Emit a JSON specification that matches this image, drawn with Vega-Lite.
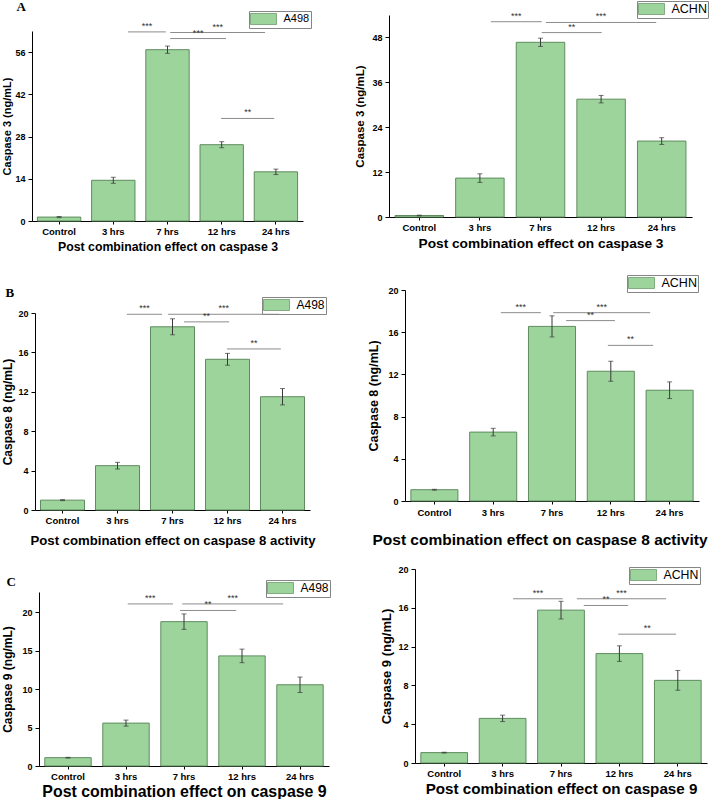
{
  "$schema": "https://vega.github.io/schema/vega-lite/v6.json",
  "background": "white",
  "padding": 0,
  "datasets": {
    "a498_c3": [
      {"group": "Control", "mean": 1.3, "sd": 0.2, "cell": "A498"},
      {"group": "3 hrs", "mean": 13.5, "sd": 1.0, "cell": "A498"},
      {"group": "7 hrs", "mean": 56.8, "sd": 1.2, "cell": "A498"},
      {"group": "12 hrs", "mean": 25.3, "sd": 1.0, "cell": "A498"},
      {"group": "24 hrs", "mean": 16.3, "sd": 0.9, "cell": "A498"}
    ],
    "achn_c3": [
      {"group": "Control", "mean": 0.4, "sd": 0.1, "cell": "ACHN"},
      {"group": "3 hrs", "mean": 10.4, "sd": 1.15, "cell": "ACHN"},
      {"group": "7 hrs", "mean": 46.7, "sd": 1.1, "cell": "ACHN"},
      {"group": "12 hrs", "mean": 31.5, "sd": 1.0, "cell": "ACHN"},
      {"group": "24 hrs", "mean": 20.3, "sd": 0.9, "cell": "ACHN"}
    ],
    "a498_c8": [
      {"group": "Control", "mean": 1.0, "sd": 0.05, "cell": "A498"},
      {"group": "3 hrs", "mean": 4.5, "sd": 0.34, "cell": "A498"},
      {"group": "7 hrs", "mean": 18.6, "sd": 0.81, "cell": "A498"},
      {"group": "12 hrs", "mean": 15.3, "sd": 0.6, "cell": "A498"},
      {"group": "24 hrs", "mean": 11.5, "sd": 0.83, "cell": "A498"}
    ],
    "achn_c8": [
      {"group": "Control", "mean": 1.07, "sd": 0.04, "cell": "ACHN"},
      {"group": "3 hrs", "mean": 6.53, "sd": 0.36, "cell": "ACHN"},
      {"group": "7 hrs", "mean": 16.55, "sd": 1.0, "cell": "ACHN"},
      {"group": "12 hrs", "mean": 12.3, "sd": 0.95, "cell": "ACHN"},
      {"group": "24 hrs", "mean": 10.5, "sd": 0.79, "cell": "ACHN"}
    ],
    "a498_c9": [
      {"group": "Control", "mean": 1.08, "sd": 0.05, "cell": "A498"},
      {"group": "3 hrs", "mean": 5.57, "sd": 0.39, "cell": "A498"},
      {"group": "7 hrs", "mean": 18.75, "sd": 1.0, "cell": "A498"},
      {"group": "12 hrs", "mean": 14.3, "sd": 0.88, "cell": "A498"},
      {"group": "24 hrs", "mean": 10.55, "sd": 1.0, "cell": "A498"}
    ],
    "achn_c9": [
      {"group": "Control", "mean": 1.07, "sd": 0.04, "cell": "ACHN"},
      {"group": "3 hrs", "mean": 4.6, "sd": 0.33, "cell": "ACHN"},
      {"group": "7 hrs", "mean": 15.76, "sd": 0.91, "cell": "ACHN"},
      {"group": "12 hrs", "mean": 11.28, "sd": 0.8, "cell": "ACHN"},
      {"group": "24 hrs", "mean": 8.52, "sd": 1.02, "cell": "ACHN"}
    ],
    "a498_c3_sig": [
      {"from": 1.77, "to": 2.47, "level": 62.7, "label": "***"},
      {"from": 2.55, "to": 4.3, "level": 62.5, "label": "***"},
      {"from": 2.55, "to": 3.58, "level": 60.5, "label": "***"},
      {"from": 3.49, "to": 4.47, "level": 34.0, "label": "**"}
    ],
    "achn_c3_sig": [
      {"from": 1.68, "to": 2.52, "level": 52.2, "label": "***"},
      {"from": 2.59, "to": 4.41, "level": 52.0, "label": "***"},
      {"from": 2.52, "to": 3.51, "level": 49.3, "label": "**"}
    ],
    "a498_c8_sig": [
      {"from": 1.67, "to": 2.31, "level": 19.87, "label": "***"},
      {"from": 2.42, "to": 4.44, "level": 19.87, "label": "***"},
      {"from": 2.71, "to": 3.53, "level": 19.1, "label": "**"},
      {"from": 3.49, "to": 4.47, "level": 16.35, "label": "**"}
    ],
    "achn_c8_sig": [
      {"from": 1.63, "to": 2.31, "level": 17.85, "label": "***"},
      {"from": 2.52, "to": 4.17, "level": 17.85, "label": "***"},
      {"from": 2.74, "to": 3.57, "level": 17.1, "label": "**"},
      {"from": 3.45, "to": 4.22, "level": 14.75, "label": "**"}
    ],
    "a498_c9_sig": [
      {"from": 1.53, "to": 2.31, "level": 21.05, "label": "***"},
      {"from": 2.47, "to": 4.21, "level": 21.05, "label": "***"},
      {"from": 2.43, "to": 3.4, "level": 20.2, "label": "**"}
    ],
    "achn_c9_sig": [
      {"from": 1.68, "to": 2.53, "level": 16.93, "label": "***"},
      {"from": 2.77, "to": 4.3, "level": 16.93, "label": "***"},
      {"from": 2.89, "to": 3.65, "level": 16.24, "label": "**"},
      {"from": 3.48, "to": 4.47, "level": 13.28, "label": "**"}
    ]
  },
  "concat": [
    {
      "width": 354, "height": 266,
      "title": {"text": "A", "offset": -14, "dx": 16.5},
      "layer": [
        {
          "data": {"name": "a498_c3"},
          "layer": [
            {
              "mark": {"type": "bar", "stroke": "#5e8c5e", "strokeWidth": 1},
              "encoding": {
                "x": {"field": "group", "type": "nominal", "sort": ["Control", "3 hrs", "7 hrs", "12 hrs", "24 hrs"], "scale": {"range": [32, 303], "paddingInner": 0.2, "paddingOuter": 0.1}, "axis": {"title": "Post combination effect on caspase 3", "offset": -45, "titleFontSize": 12.3, "titlePadding": 5}},
                "y": {"field": "mean", "type": "quantitative", "title": "Caspase 3 (ng/mL)", "scale": {"domain": [0, 63], "range": [221, 31], "nice": false}, "axis": {"values": [0, 14, 28, 42, 56], "offset": -32, "labelOverlap": false, "titleFontSize": 11, "titlePadding": 2.5}},
                "fill": {"field": "cell", "type": "nominal", "scale": {"range": ["#9dd49c"]}, "legend": {"legendX": 249, "legendY": 11, "labelFontSize": 11}}
              }
            },
            {
              "mark": {"type": "errorbar", "color": "#3a3a3a", "ticks": {"size": 5, "color": "#3a3a3a"}},
              "encoding": {
                "x": {"field": "group", "type": "nominal", "sort": ["Control", "3 hrs", "7 hrs", "12 hrs", "24 hrs"]},
                "y": {"field": "mean", "type": "quantitative", "title": "Caspase 3 (ng/mL)", "scale": {"domain": [0, 63], "range": [221, 31], "nice": false}},
                "yError": {"field": "sd"}
              }
            }
          ]
        },
        {
          "data": {"name": "a498_c3_sig"},
          "transform": [{"calculate": "(datum.from + datum.to) / 2", "as": "mid"}],
          "layer": [
            {
              "mark": {"type": "rule", "color": "#8c8c8c", "strokeWidth": 1},
              "encoding": {
                "x": {"field": "from", "type": "quantitative", "scale": {"domain": [0, 5], "range": [32, 303], "nice": false, "zero": false}, "axis": null},
                "x2": {"field": "to"},
                "y": {"field": "level", "type": "quantitative", "title": "Caspase 3 (ng/mL)", "scale": {"domain": [0, 63], "range": [221, 31], "nice": false}}
              }
            },
            {
              "mark": {"type": "text", "baseline": "bottom", "fontSize": 9, "color": "#333333", "dy": -1},
              "encoding": {
                "x": {"field": "mid", "type": "quantitative", "scale": {"domain": [0, 5], "range": [32, 303], "nice": false, "zero": false}, "axis": null},
                "y": {"field": "level", "type": "quantitative", "title": "Caspase 3 (ng/mL)", "scale": {"domain": [0, 63], "range": [221, 31], "nice": false}},
                "text": {"field": "label"}
              }
            }
          ]
        }
      ],
      "resolve": {"scale": {"x": "independent"}}
    },
    {
      "width": 354, "height": 266,
      "layer": [
        {
          "data": {"name": "achn_c3"},
          "layer": [
            {
              "mark": {"type": "bar", "stroke": "#5e8c5e", "strokeWidth": 1},
              "encoding": {
                "x": {"field": "group", "type": "nominal", "sort": ["Control", "3 hrs", "7 hrs", "12 hrs", "24 hrs"], "scale": {"range": [35, 338], "paddingInner": 0.2, "paddingOuter": 0.1}, "axis": {"title": "Post combination effect on caspase 3", "offset": -49, "titleFontSize": 13.7, "titlePadding": 5}},
                "y": {"field": "mean", "type": "quantitative", "title": "Caspase 3 (ng/mL)", "scale": {"domain": [0, 54], "range": [217, 15], "nice": false}, "axis": {"values": [0, 12, 24, 36, 48], "offset": -35, "labelOverlap": false, "titleFontSize": 11.5, "titlePadding": 6.25}},
                "fill": {"field": "cell", "type": "nominal", "scale": {"range": ["#9dd49c"]}, "legend": {"legendX": 283, "legendY": 1, "labelFontSize": 12.5}}
              }
            },
            {
              "mark": {"type": "errorbar", "color": "#3a3a3a", "ticks": {"size": 5, "color": "#3a3a3a"}},
              "encoding": {
                "x": {"field": "group", "type": "nominal", "sort": ["Control", "3 hrs", "7 hrs", "12 hrs", "24 hrs"]},
                "y": {"field": "mean", "type": "quantitative", "title": "Caspase 3 (ng/mL)", "scale": {"domain": [0, 54], "range": [217, 15], "nice": false}},
                "yError": {"field": "sd"}
              }
            }
          ]
        },
        {
          "data": {"name": "achn_c3_sig"},
          "transform": [{"calculate": "(datum.from + datum.to) / 2", "as": "mid"}],
          "layer": [
            {
              "mark": {"type": "rule", "color": "#8c8c8c", "strokeWidth": 1},
              "encoding": {
                "x": {"field": "from", "type": "quantitative", "scale": {"domain": [0, 5], "range": [35, 338], "nice": false, "zero": false}, "axis": null},
                "x2": {"field": "to"},
                "y": {"field": "level", "type": "quantitative", "title": "Caspase 3 (ng/mL)", "scale": {"domain": [0, 54], "range": [217, 15], "nice": false}}
              }
            },
            {
              "mark": {"type": "text", "baseline": "bottom", "fontSize": 9, "color": "#333333", "dy": -1},
              "encoding": {
                "x": {"field": "mid", "type": "quantitative", "scale": {"domain": [0, 5], "range": [35, 338], "nice": false, "zero": false}, "axis": null},
                "y": {"field": "level", "type": "quantitative", "title": "Caspase 3 (ng/mL)", "scale": {"domain": [0, 54], "range": [217, 15], "nice": false}},
                "text": {"field": "label"}
              }
            }
          ]
        }
      ],
      "resolve": {"scale": {"x": "independent"}}
    },
    {
      "width": 354, "height": 266,
      "title": {"text": "B", "offset": -34, "dx": 5.5},
      "layer": [
        {
          "data": {"name": "a498_c8"},
          "layer": [
            {
              "mark": {"type": "bar", "stroke": "#5e8c5e", "strokeWidth": 1},
              "encoding": {
                "x": {"field": "group", "type": "nominal", "sort": ["Control", "3 hrs", "7 hrs", "12 hrs", "24 hrs"], "scale": {"range": [35, 310], "paddingInner": 0.2, "paddingOuter": 0.1}, "axis": {"title": "Post combination effect on caspase 8 activity", "offset": -22, "titleFontSize": 13.2, "titlePadding": 9.5}},
                "y": {"field": "mean", "type": "quantitative", "title": "Caspase 8 (ng/mL)", "scale": {"domain": [0, 20], "range": [244, 47], "nice": false}, "axis": {"values": [0, 4, 8, 12, 16, 20], "offset": -35, "labelOverlap": false, "titleFontSize": 12, "titlePadding": 3}},
                "fill": {"field": "cell", "type": "nominal", "scale": {"range": ["#9dd49c"]}, "legend": {"legendX": 262, "legendY": 31, "labelFontSize": 12}}
              }
            },
            {
              "mark": {"type": "errorbar", "color": "#3a3a3a", "ticks": {"size": 5, "color": "#3a3a3a"}},
              "encoding": {
                "x": {"field": "group", "type": "nominal", "sort": ["Control", "3 hrs", "7 hrs", "12 hrs", "24 hrs"]},
                "y": {"field": "mean", "type": "quantitative", "title": "Caspase 8 (ng/mL)", "scale": {"domain": [0, 20], "range": [244, 47], "nice": false}},
                "yError": {"field": "sd"}
              }
            }
          ]
        },
        {
          "data": {"name": "a498_c8_sig"},
          "transform": [{"calculate": "(datum.from + datum.to) / 2", "as": "mid"}],
          "layer": [
            {
              "mark": {"type": "rule", "color": "#8c8c8c", "strokeWidth": 1},
              "encoding": {
                "x": {"field": "from", "type": "quantitative", "scale": {"domain": [0, 5], "range": [35, 310], "nice": false, "zero": false}, "axis": null},
                "x2": {"field": "to"},
                "y": {"field": "level", "type": "quantitative", "title": "Caspase 8 (ng/mL)", "scale": {"domain": [0, 20], "range": [244, 47], "nice": false}}
              }
            },
            {
              "mark": {"type": "text", "baseline": "bottom", "fontSize": 9, "color": "#333333", "dy": -1},
              "encoding": {
                "x": {"field": "mid", "type": "quantitative", "scale": {"domain": [0, 5], "range": [35, 310], "nice": false, "zero": false}, "axis": null},
                "y": {"field": "level", "type": "quantitative", "title": "Caspase 8 (ng/mL)", "scale": {"domain": [0, 20], "range": [244, 47], "nice": false}},
                "text": {"field": "label"}
              }
            }
          ]
        }
      ],
      "resolve": {"scale": {"x": "independent"}}
    },
    {
      "width": 354, "height": 266,
      "layer": [
        {
          "data": {"name": "achn_c8"},
          "layer": [
            {
              "mark": {"type": "bar", "stroke": "#5e8c5e", "strokeWidth": 1},
              "encoding": {
                "x": {"field": "group", "type": "nominal", "sort": ["Control", "3 hrs", "7 hrs", "12 hrs", "24 hrs"], "scale": {"range": [51, 345], "paddingInner": 0.2, "paddingOuter": 0.1}, "axis": {"title": "Post combination effect on caspase 8 activity", "offset": -31, "titleX": 185.5, "titleFontSize": 15.5, "titlePadding": 16, "labelPadding": 3}},
                "y": {"field": "mean", "type": "quantitative", "title": "Caspase 8 (ng/mL)", "scale": {"domain": [0, 20], "range": [235, 24], "nice": false}, "axis": {"values": [0, 4, 8, 12, 16, 20], "offset": -51, "labelOverlap": false, "titleFontSize": 12.5, "titlePadding": 7.75}},
                "fill": {"field": "cell", "type": "nominal", "scale": {"range": ["#9dd49c"]}, "legend": {"legendX": 273, "legendY": 9, "labelFontSize": 12.5}}
              }
            },
            {
              "mark": {"type": "errorbar", "color": "#3a3a3a", "ticks": {"size": 5, "color": "#3a3a3a"}},
              "encoding": {
                "x": {"field": "group", "type": "nominal", "sort": ["Control", "3 hrs", "7 hrs", "12 hrs", "24 hrs"]},
                "y": {"field": "mean", "type": "quantitative", "title": "Caspase 8 (ng/mL)", "scale": {"domain": [0, 20], "range": [235, 24], "nice": false}},
                "yError": {"field": "sd"}
              }
            }
          ]
        },
        {
          "data": {"name": "achn_c8_sig"},
          "transform": [{"calculate": "(datum.from + datum.to) / 2", "as": "mid"}],
          "layer": [
            {
              "mark": {"type": "rule", "color": "#8c8c8c", "strokeWidth": 1},
              "encoding": {
                "x": {"field": "from", "type": "quantitative", "scale": {"domain": [0, 5], "range": [51, 345], "nice": false, "zero": false}, "axis": null},
                "x2": {"field": "to"},
                "y": {"field": "level", "type": "quantitative", "title": "Caspase 8 (ng/mL)", "scale": {"domain": [0, 20], "range": [235, 24], "nice": false}}
              }
            },
            {
              "mark": {"type": "text", "baseline": "bottom", "fontSize": 9, "color": "#333333", "dy": -1},
              "encoding": {
                "x": {"field": "mid", "type": "quantitative", "scale": {"domain": [0, 5], "range": [51, 345], "nice": false, "zero": false}, "axis": null},
                "y": {"field": "level", "type": "quantitative", "title": "Caspase 8 (ng/mL)", "scale": {"domain": [0, 20], "range": [235, 24], "nice": false}},
                "text": {"field": "label"}
              }
            }
          ]
        }
      ],
      "resolve": {"scale": {"x": "independent"}}
    },
    {
      "width": 354, "height": 266,
      "title": {"text": "C", "offset": -57, "dx": 6.5},
      "layer": [
        {
          "data": {"name": "a498_c9"},
          "layer": [
            {
              "mark": {"type": "bar", "stroke": "#5e8c5e", "strokeWidth": 1},
              "encoding": {
                "x": {"field": "group", "type": "nominal", "sort": ["Control", "3 hrs", "7 hrs", "12 hrs", "24 hrs"], "scale": {"range": [39, 329], "paddingInner": 0.2, "paddingOuter": 0.1}, "axis": {"title": "Post combination effect on caspase 9", "offset": -32, "titleFontSize": 15.9, "titlePadding": 2.5}},
                "y": {"field": "mean", "type": "quantitative", "title": "Caspase 9 (ng/mL)", "scale": {"domain": [0, 22.6], "range": [234, 60], "nice": false}, "axis": {"values": [0, 5, 10, 15, 20], "offset": -39, "labelOverlap": false, "titleFontSize": 12, "titlePadding": 7}},
                "fill": {"field": "cell", "type": "nominal", "scale": {"range": ["#9dd49c"]}, "legend": {"legendX": 266, "legendY": 48, "labelFontSize": 12}}
              }
            },
            {
              "mark": {"type": "errorbar", "color": "#3a3a3a", "ticks": {"size": 5, "color": "#3a3a3a"}},
              "encoding": {
                "x": {"field": "group", "type": "nominal", "sort": ["Control", "3 hrs", "7 hrs", "12 hrs", "24 hrs"]},
                "y": {"field": "mean", "type": "quantitative", "title": "Caspase 9 (ng/mL)", "scale": {"domain": [0, 22.6], "range": [234, 60], "nice": false}},
                "yError": {"field": "sd"}
              }
            }
          ]
        },
        {
          "data": {"name": "a498_c9_sig"},
          "transform": [{"calculate": "(datum.from + datum.to) / 2", "as": "mid"}],
          "layer": [
            {
              "mark": {"type": "rule", "color": "#8c8c8c", "strokeWidth": 1},
              "encoding": {
                "x": {"field": "from", "type": "quantitative", "scale": {"domain": [0, 5], "range": [39, 329], "nice": false, "zero": false}, "axis": null},
                "x2": {"field": "to"},
                "y": {"field": "level", "type": "quantitative", "title": "Caspase 9 (ng/mL)", "scale": {"domain": [0, 22.6], "range": [234, 60], "nice": false}}
              }
            },
            {
              "mark": {"type": "text", "baseline": "bottom", "fontSize": 9, "color": "#333333", "dy": -1},
              "encoding": {
                "x": {"field": "mid", "type": "quantitative", "scale": {"domain": [0, 5], "range": [39, 329], "nice": false, "zero": false}, "axis": null},
                "y": {"field": "level", "type": "quantitative", "title": "Caspase 9 (ng/mL)", "scale": {"domain": [0, 22.6], "range": [234, 60], "nice": false}},
                "text": {"field": "label"}
              }
            }
          ]
        }
      ],
      "resolve": {"scale": {"x": "independent"}}
    },
    {
      "width": 354, "height": 266,
      "layer": [
        {
          "data": {"name": "achn_c9"},
          "layer": [
            {
              "mark": {"type": "bar", "stroke": "#5e8c5e", "strokeWidth": 1},
              "encoding": {
                "x": {"field": "group", "type": "nominal", "sort": ["Control", "3 hrs", "7 hrs", "12 hrs", "24 hrs"], "scale": {"range": [61, 353], "paddingInner": 0.2, "paddingOuter": 0.1}, "axis": {"title": "Post combination effect on caspase 9", "offset": -35, "titleFontSize": 15.2, "titlePadding": 4}},
                "y": {"field": "mean", "type": "quantitative", "title": "Caspase 9 (ng/mL)", "scale": {"domain": [0, 20], "range": [231, 37], "nice": false}, "axis": {"values": [0, 4, 8, 12, 16, 20], "offset": -61, "labelOverlap": false, "titleFontSize": 13, "titlePadding": 4.5}},
                "fill": {"field": "cell", "type": "nominal", "scale": {"range": ["#9dd49c"]}, "legend": {"legendX": 275, "legendY": 35, "labelFontSize": 12.3}}
              }
            },
            {
              "mark": {"type": "errorbar", "color": "#3a3a3a", "ticks": {"size": 5, "color": "#3a3a3a"}},
              "encoding": {
                "x": {"field": "group", "type": "nominal", "sort": ["Control", "3 hrs", "7 hrs", "12 hrs", "24 hrs"]},
                "y": {"field": "mean", "type": "quantitative", "title": "Caspase 9 (ng/mL)", "scale": {"domain": [0, 20], "range": [231, 37], "nice": false}},
                "yError": {"field": "sd"}
              }
            }
          ]
        },
        {
          "data": {"name": "achn_c9_sig"},
          "transform": [{"calculate": "(datum.from + datum.to) / 2", "as": "mid"}],
          "layer": [
            {
              "mark": {"type": "rule", "color": "#8c8c8c", "strokeWidth": 1},
              "encoding": {
                "x": {"field": "from", "type": "quantitative", "scale": {"domain": [0, 5], "range": [61, 353], "nice": false, "zero": false}, "axis": null},
                "x2": {"field": "to"},
                "y": {"field": "level", "type": "quantitative", "title": "Caspase 9 (ng/mL)", "scale": {"domain": [0, 20], "range": [231, 37], "nice": false}}
              }
            },
            {
              "mark": {"type": "text", "baseline": "bottom", "fontSize": 9, "color": "#333333", "dy": -1},
              "encoding": {
                "x": {"field": "mid", "type": "quantitative", "scale": {"domain": [0, 5], "range": [61, 353], "nice": false, "zero": false}, "axis": null},
                "y": {"field": "level", "type": "quantitative", "title": "Caspase 9 (ng/mL)", "scale": {"domain": [0, 20], "range": [231, 37], "nice": false}},
                "text": {"field": "label"}
              }
            }
          ]
        }
      ],
      "resolve": {"scale": {"x": "independent"}}
    }
  ],
  "columns": 2,
  "align": "all",
  "bounds": "flush",
  "spacing": 0,
  "resolve": {"scale": {"fill": "independent"}, "legend": {"fill": "independent"}},
  "config": {
    "view": {"stroke": null},
    "font": "Liberation Sans",
    "title": {"anchor": "start", "frame": "group", "font": "Liberation Serif", "fontSize": 13, "fontWeight": "bold", "color": "#000000"},
    "axis": {"domainColor": "#000000", "tickColor": "#000000", "labelColor": "#000000", "titleColor": "#000000", "labelFont": "Liberation Sans", "titleFont": "Liberation Sans", "labelFontWeight": "bold", "titleFontWeight": "bold", "grid": false, "domainWidth": 1, "tickWidth": 1},
    "axisY": {"tickSize": 4, "labelPadding": 3, "labelFontSize": 9, "labelOverlap": false},
    "axisX": {"tickSize": 3, "labelPadding": 2, "labelAngle": 0, "labelFontSize": 9.5},
    "legend": {"orient": "none", "title": null, "padding": 1, "columnPadding": 0, "rowPadding": 0, "strokeColor": "#858585", "symbolType": "M-2,-0.85H2V0.85H-2Z", "symbolSize": 169, "symbolOffset": 6.5, "labelOffset": 13, "symbolStrokeColor": "#6f9a6f", "symbolStrokeWidth": 0.8, "labelFont": "Liberation Sans", "labelColor": "#000000"}
  }
}
